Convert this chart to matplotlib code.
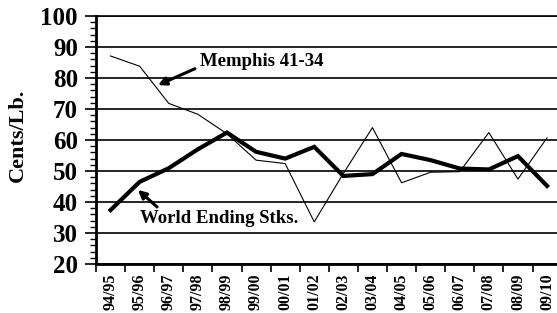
import matplotlib
matplotlib.use("Agg")
import matplotlib.pyplot as plt
import numpy as np

seasons = ["94/95", "95/96", "96/97", "97/98", "98/99", "99/00", "00/01", "01/02",
           "02/03", "03/04", "04/05", "05/06", "06/07", "07/08", "08/09", "09/10"]
memphis = [87.1, 83.8, 71.8, 68.3, 62.0, 53.5, 52.4, 33.6, 49.2, 64.0, 46.2, 49.6, 49.8, 62.4, 47.4, 60.7]
world = [37.4, 46.5, 50.9, 57.0, 62.4, 56.2, 54.0, 57.8, 48.4, 49.0, 55.5, 53.5, 50.8, 50.5, 54.8, 45.2]
yticks = [20, 30, 40, 50, 60, 70, 80, 90, 100]

plt.rcParams['font.family'] = ['Liberation Serif', 'DejaVu Serif']
plt.rcParams['font.weight'] = 'bold'

fig = plt.figure(figsize=(5.57, 3.13), dpi=100)
ax = fig.add_axes([96/557, 1-264/313, (561.6-96)/557, (264-16)/313])

x = np.arange(len(seasons))
ax.plot(x, memphis, color='black', lw=0.8, zorder=3)
ax.plot(x, world, color='black', lw=3.0, zorder=4, solid_joinstyle='miter')

ax.set_xlim(-0.5, len(seasons) - 0.5)
ax.set_ylim(20, 100)
ax.set_yticks(yticks)
ax.set_yticklabels([str(v) for v in yticks], fontsize=18, fontweight='bold')
ax.set_yticks(np.arange(20, 101, 2), minor=True)
ax.yaxis.grid(True, which='major', color='black', lw=1.2)
ax.tick_params(axis='y', which='major', direction='out', length=8, width=1.2, pad=5)
ax.tick_params(axis='y', which='minor', direction='out', length=4, width=1.0)

ax.set_xticks(np.arange(-0.5, len(seasons), 1.0))
ax.set_xticklabels([])
ax.set_xticks(x, minor=True)
ax.set_xticklabels(seasons, minor=True, rotation=90, fontsize=11.5, fontweight='bold')
ax.tick_params(axis='x', which='major', direction='out', length=6, width=1.2)
ax.tick_params(axis='x', which='minor', length=0, pad=7)

ax.spines['right'].set_visible(False)
ax.spines['top'].set_linewidth(1.2)
ax.spines['left'].set_linewidth(2.0)
ax.spines['bottom'].set_linewidth(2.0)

ax.set_ylabel("Cents/Lb.", fontsize=16, fontweight='bold')
ax.yaxis.set_label_coords(-(96-28)/465.6, 0.52)

ax.text(3.07, 85.2, "Memphis 41-34", fontsize=13.5, fontweight='bold', va='center', ha='left')
ax.annotate("", xy=(1.63, 77.7), xytext=(2.9, 83.0),
            arrowprops=dict(arrowstyle='-|>', color='black', lw=2.2,
                            mutation_scale=12, shrinkA=0, shrinkB=0))
ax.text(1.01, 34.8, "World Ending Stks.", fontsize=13.5, fontweight='bold', va='center', ha='left')
ax.annotate("", xy=(0.94, 43.9), xytext=(1.6, 38.4),
            arrowprops=dict(arrowstyle='-|>', color='black', lw=2.2,
                            mutation_scale=12, shrinkA=0, shrinkB=0))

fig.savefig("out.png", dpi=100)
